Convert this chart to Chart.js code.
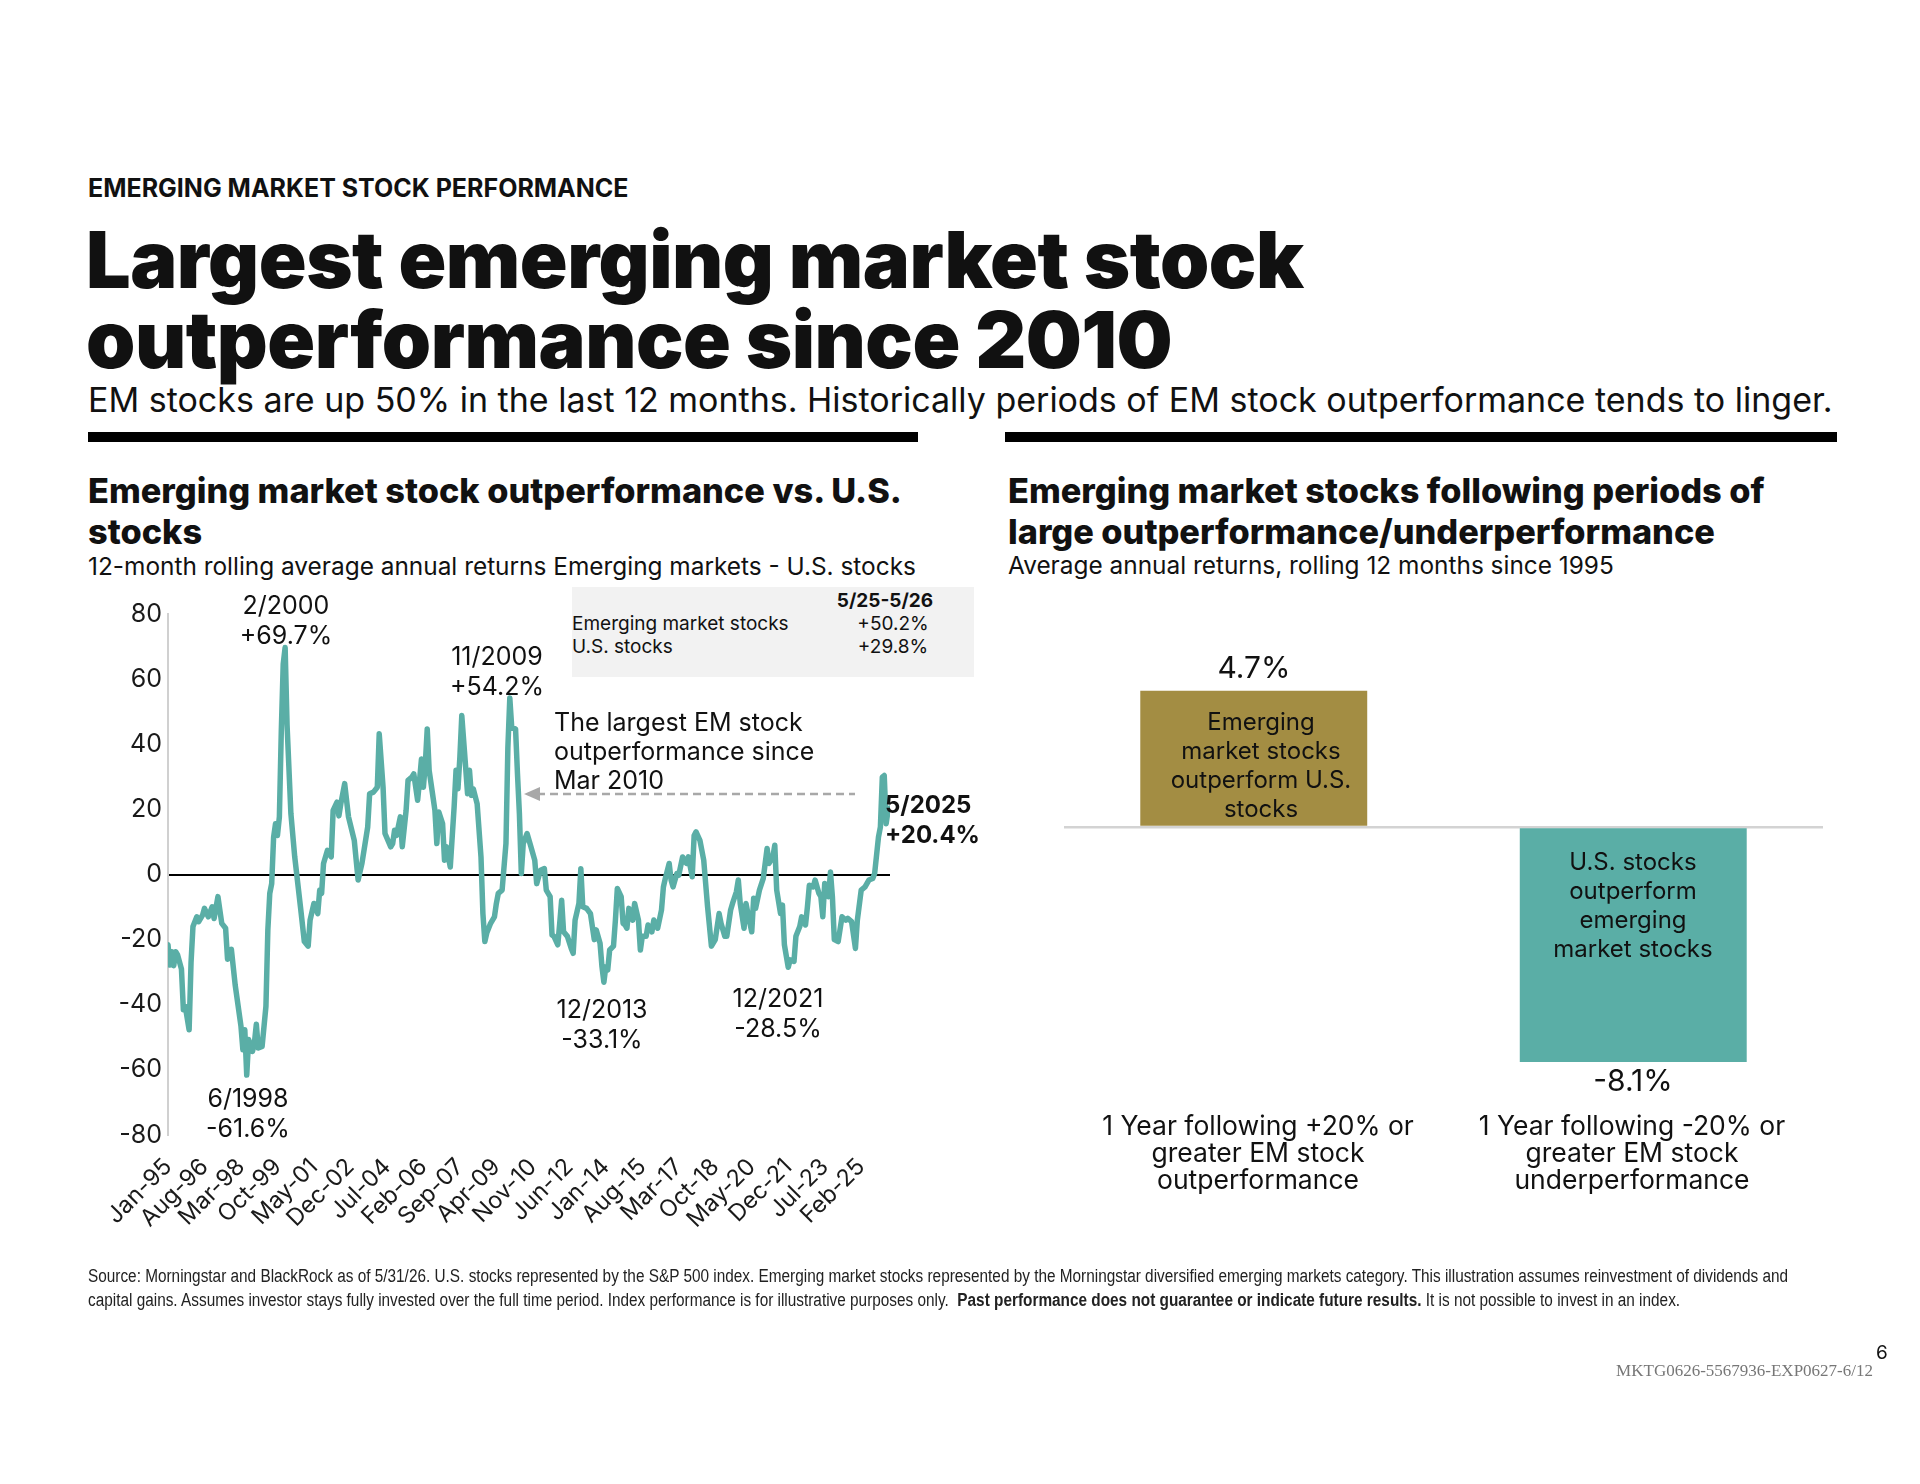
<!DOCTYPE html>
<html>
<head>
<meta charset="utf-8">
<script src="https://cdn.jsdelivr.net/npm/chart.js@4.4.1/dist/chart.umd.min.js"></script>
<style>
  html, body { margin: 0; padding: 0; background: #fff; }
  body { width: 1920px; height: 1484px; position: relative; overflow: hidden; font-family: Inter, "Noto Sans", sans-serif; color: #111; }
  .abs { position: absolute; white-space: nowrap; }
  .ctr { transform: translateX(-50%); text-align: center; }
  .kicker { left: 88px; top: 174px; font-size: 25px; font-weight: 700; line-height: 28px; }
  .title { left: 86px; top: 219px; font-size: 79px; font-weight: 900; line-height: 80px; letter-spacing: -0.5px; }
  .lede { left: 88px; top: 381px; font-size: 34px; line-height: 38px; }
  .rule { position: absolute; top: 432px; height: 10px; background: #000; }
  .ptitle { font-size: 34.3px; font-weight: 800; line-height: 40.5px; }
  .psub { font-size: 24.4px; line-height: 28px; }
  .note { font-size: 25px; line-height: 30px; }
  .box { position: absolute; left: 572px; top: 587px; width: 402px; height: 90px; background: #f2f2f2; }
  .boxtxt { font-size: 19px; line-height: 23px; }
  .rnum { font-size: 30px; line-height: 34px; }
  .inbar { font-size: 24px; line-height: 29px; }
  .cat { font-size: 26.5px; line-height: 27px; }
  .foot { left: 88px; top: 1264px; font-family: "Liberation Sans", Arial, sans-serif; font-size: 18px; line-height: 24px; color: #222; transform: scaleX(0.853); transform-origin: 0 0; }
  canvas { position: absolute; }
</style>
</head>
<body>

<div class="abs kicker">EMERGING MARKET STOCK PERFORMANCE</div>
<div class="abs title">Largest emerging market stock<br>outperformance since 2010</div>
<div class="abs lede">EM stocks are up 50% in the last 12 months. Historically periods of EM stock outperformance tends to linger.</div>
<div class="rule" style="left:88px;width:830px"></div>
<div class="rule" style="left:1005px;width:832px"></div>

<div class="abs ptitle" style="left:88px;top:471px">Emerging market stock outperformance vs. U.S.<br>stocks</div>
<div class="abs psub" style="left:88px;top:552px">12-month rolling average annual returns Emerging markets - U.S. stocks</div>
<div class="abs ptitle" style="left:1008px;top:471px">Emerging market stocks following periods of<br>large outperformance/underperformance</div>
<div class="abs psub" style="left:1008px;top:551px">Average annual returns, rolling 12 months since 1995</div>

<div class="box"></div>
<div class="abs boxtxt" style="left:885px;top:589px;font-weight:700;transform:translateX(-50%)">5/25-5/26</div>
<div class="abs boxtxt" style="left:572px;top:612px">Emerging market stocks<br>U.S. stocks</div>
<div class="abs boxtxt ctr" style="left:893px;top:612px">+50.2%<br>+29.8%</div>

<canvas id="spreadChart" width="810" height="647" style="left:90px;top:593px;width:810px;height:647px"></canvas>

<div class="abs note ctr" style="left:286px;top:590px">2/2000<br>+69.7%</div>
<div class="abs note ctr" style="left:497px;top:641px">11/2009<br>+54.2%</div>
<div class="abs note ctr" style="left:248px;top:1083px">6/1998<br>-61.6%</div>
<div class="abs note ctr" style="left:602px;top:994px">12/2013<br>-33.1%</div>
<div class="abs note ctr" style="left:778px;top:983px">12/2021<br>-28.5%</div>
<div class="abs note" style="left:554px;top:708px;line-height:29px">The largest EM stock<br>outperformance since<br>Mar 2010</div>
<div class="abs note" style="left:885px;top:790px;font-weight:700;font-size:24px">5/2025<br>+20.4%</div>

<svg class="abs" style="left:0;top:0" width="1920" height="1484">
  <line x1="537" y1="794" x2="855" y2="794" stroke="#a8a8a8" stroke-width="2.5" stroke-dasharray="8 5"/>
  <polygon points="524,794 540,787 540,801" fill="#a8a8a8"/>
</svg>

<canvas id="barChart" width="759" height="464" style="left:1064px;top:653px;width:759px;height:464px"></canvas>

<div class="abs rnum ctr" style="left:1254px;top:650px">4.7%</div>
<div class="abs inbar ctr" style="left:1261px;top:707px">Emerging<br>market stocks<br>outperform U.S.<br>stocks</div>
<div class="abs rnum ctr" style="left:1633px;top:1063px">-8.1%</div>
<div class="abs inbar ctr" style="left:1633px;top:847px">U.S. stocks<br>outperform<br>emerging<br>market stocks</div>
<div class="abs cat ctr" style="left:1258px;top:1112px">1 Year following +20% or<br>greater EM stock<br>outperformance</div>
<div class="abs cat ctr" style="left:1632px;top:1112px">1 Year following -20% or<br>greater EM stock<br>underperformance</div>

<div class="abs foot">Source: Morningstar and BlackRock as of 5/31/26. U.S. stocks represented by the S&amp;P 500 index. Emerging market stocks represented by the Morningstar diversified emerging markets category. This illustration assumes reinvestment of dividends and<br>capital gains. Assumes investor stays fully invested over the full time period. Index performance is for illustrative purposes only.&nbsp;&nbsp;<b>Past performance does not guarantee or indicate future results.</b> It is not possible to invest in an index.</div>
<div class="abs" style="left:1876px;top:1342px;font-size:19px;line-height:22px">6</div>
<div class="abs" style="right:47px;top:1361px;font-family:'Liberation Serif','DejaVu Serif',serif;font-size:17px;line-height:20px;color:#777">MKTG0626-5567936-EXP0627-6/12</div>

<script>
// months counted from Jan-95 (0) to May-26 (376)
const spreadMonths = [
  0, 1, 2, 3, 4, 5, 7, 8, 9, 11,
  12, 13, 15, 16, 18, 19, 21, 23, 24, 26,
  28, 30, 31, 33, 35, 38, 39, 40, 41, 42,
  44, 45, 46, 47, 49, 51, 52, 53, 54, 55,
  56, 57, 58, 59, 60, 61, 62, 64, 66, 69,
  71, 73, 74, 76, 78, 79, 80, 81, 83, 85,
  86, 88, 89, 90, 92, 94, 97, 99, 101, 104,
  105, 107, 109, 110, 112, 113, 116, 117, 118, 119,
  121, 122, 124, 125, 127, 128, 130, 131, 132, 133,
  134, 135, 136, 138, 139, 140, 141, 143, 144, 145,
  147, 149, 150, 151, 152, 153, 155, 156, 157, 158,
  159, 161, 163, 164, 165, 166, 168, 170, 171, 172,
  174, 176, 177, 178, 179, 181, 182, 183, 184, 185,
  187, 189, 191, 192, 194, 196, 197, 199, 200, 201,
  203, 204, 205, 206, 208, 210, 211, 212, 214, 215,
  216, 218, 220, 222, 223, 225, 226, 227, 228, 229,
  230, 232, 233, 234, 236, 237, 238, 239, 240, 242,
  243, 245, 246, 247, 249, 250, 252, 253, 255, 257,
  258, 259, 261, 262, 263, 265, 266, 268, 270, 271,
  273, 274, 275, 277, 279, 280, 281, 283, 285, 287,
  288, 290, 291, 293, 294, 296, 297, 298, 300, 301,
  302, 304, 305, 306, 308, 310, 312, 313, 315, 316,
  317, 319, 320, 321, 323, 324, 326, 327, 329, 330,
  332, 333, 334, 336, 337, 339, 340, 341, 342, 344,
  345, 346, 347, 349, 351, 353, 354, 356, 358, 359,
  361, 363, 365, 367, 368, 370, 371, 372, 373, 374,
  375, 376
];

// EM minus U.S. 12-month return, percentage points
const spreadValues = [
  -21.6, -27.8, -23.7, -28, -23.7, -24.7, -29, -41.5, -40.5, -47.7,
  -27, -16, -13, -14.5, -12.5, -10.4, -13, -9.9, -13.5, -6.8,
  -15, -16.5, -26, -23, -34, -46.6, -53.8, -47.7, -61.6, -50.7,
  -54.3, -51.7, -46, -53.3, -52.8, -40.5, -17, -5.8, -2.8, 11.5,
  15.6, 12, 17.7, 44, 64.6, 69.7, 46, 18.7, 5.4, -10,
  -20.6, -22, -14, -8.9, -12, -4.8, -5.8, 3.4, 7.4, 5.4,
  19.7, 22.2, 18, 21.7, 27.9, 17.7, 10.5, -1.7, 3.4, 14.6,
  24.8, 25.3, 26.8, 43.2, 26.8, 12.6, 8.5, 9.5, 13.6, 12,
  17.7, 8.5, 19.7, 28.9, 29.9, 30.9, 22.8, 28.9, 35.5, 26.8,
  34, 44.7, 32, 23.8, 19.7, 9.5, 19.2, 15.6, 4.4, 8.5,
  2.3, 20.7, 32, 26.3, 36, 48.8, 33, 24.8, 32, 24.3,
  26.3, 21.7, 5.4, -12, -20.6, -18, -15, -13, -8.9, -5.8,
  -4.8, 9.5, 39, 54.2, 45.2, 44.7, 30.9, 18.7, 0.3, 9.5,
  12.6, 8.5, 4.4, -2.8, 1.3, 1.8, -4.8, -6.8, -18.6, -19,
  -21.6, -15, -7.9, -17.6, -19, -22.7, -24.2, -14, -8.9, 1.8,
  -9.9, -10.4, -12, -20, -17, -21.1, -28.3, -33.1, -28.3, -29.3,
  -23.2, -22, -14, -4.3, -6.8, -15, -15.5, -16.5, -10.4, -14,
  -8.9, -14, -23.2, -19, -19, -15.5, -17.6, -14, -16.5, -10.9,
  -3.8, -1.2, 3.4, -1.7, -3.8, 0.3, -0.2, 5.4, 3.4, 5.4,
  -0.7, 12, 13.1, 10.5, 4.4, -2.8, -9.9, -22, -20, -12,
  -15, -19, -19, -10.9, -8.9, -5.3, -1.7, -8.9, -16.5, -8.9,
  -12, -17.6, -7.3, -10.4, -4.8, -1.2, 8, 3.4, 5.4, 9,
  -4.8, -12, -9.4, -21.6, -28.5, -26.2, -26.7, -19, -16, -13,
  -15.5, -9.9, -3.3, -3.8, -1.7, -5.8, -6.8, -13, -2.8, -6.8,
  0.8, -6.8, -20, -20.6, -13, -14, -13.5, -14.5, -22.7, -14,
  -4.8, -3.8, -1.7, -1.2, 0.3, 11.5, 14.6, 29.9, 30.4, 15.6,
  19.7, 20.4
];

const monthTickLabels = ['Jan-95', 'Aug-96', 'Mar-98', 'Oct-99', 'May-01', 'Dec-02', 'Jul-04', 'Feb-06', 'Sep-07', 'Apr-09',
  'Nov-10', 'Jun-12', 'Jan-14', 'Aug-15', 'Mar-17', 'Oct-18', 'May-20', 'Dec-21', 'Jul-23', 'Feb-25'];
const tickEvery = 19;

const periodLabels = ['+20% EM outperformance', '-20% EM underperformance'];
const periodReturns = [4.7, -8.1];

const teal = '#5aaea6';
const gold = '#a38d43';
const axisFont = { family: 'Inter', size: 25 };

Chart.defaults.animation = false;
Chart.defaults.color = '#1a1a1a';

const spreadCtx = document.getElementById('spreadChart').getContext('2d');
new Chart(spreadCtx, {
    type: 'line',
    data: {
        datasets: [{
            data: spreadMonths.map((m, i) => ({ x: m, y: spreadValues[i] })),
            borderColor: teal,
            borderWidth: 5.5,
            pointRadius: 0,
            tension: 0,
            borderJoinStyle: 'round',
            borderCapStyle: 'round'
        }]
    },
    options: {
        responsive: false,
        layout: { padding: { top: 0, right: 10 } },
        plugins: { legend: { display: false }, tooltip: { enabled: false } },
        scales: {
            x: {
                type: 'linear',
                min: 0,
                max: 376,
                grid: { display: false },
                border: { display: false },
                afterFit: scale => { scale.height = 105; },
                ticks: {
                    stepSize: tickEvery,
                    includeBounds: false,
                    autoSkip: false,
                    maxRotation: 45,
                    minRotation: 45,
                    padding: 10,
                    font: { family: 'Inter', size: 23.5 },
                    callback: value => monthTickLabels[value / tickEvery] || ''
                }
            },
            y: {
                min: -80,
                max: 80,
                afterFit: scale => { scale.width = 78; },
                border: { display: true, color: '#d0d0d0', width: 2 },
                grid: {
                    drawTicks: false,
                    color: ctx => ctx.tick.value === 0 ? '#000' : 'rgba(0,0,0,0)',
                    lineWidth: 2
                },
                ticks: { stepSize: 20, padding: 6, font: axisFont }
            }
        }
    }
});

const barCtx = document.getElementById('barChart').getContext('2d');
new Chart(barCtx, {
    type: 'bar',
    data: {
        labels: periodLabels,
        datasets: [{
            data: periodReturns,
            backgroundColor: [gold, teal],
            borderWidth: 0,
            categoryPercentage: 1,
            barPercentage: 0.598
        }]
    },
    options: {
        responsive: false,
        plugins: { legend: { display: false }, tooltip: { enabled: false } },
        scales: {
            x: { display: false },
            y: {
                min: -10,
                max: 6,
                afterFit: scale => { scale.width = 0; },
                border: { display: false },
                ticks: { display: false },
                grid: {
                    drawTicks: false,
                    color: ctx => ctx.tick.value === 0 ? '#d3d3d3' : 'rgba(0,0,0,0)',
                    lineWidth: 2.5
                }
            }
        }
    }
});
</script>
</body>
</html>
